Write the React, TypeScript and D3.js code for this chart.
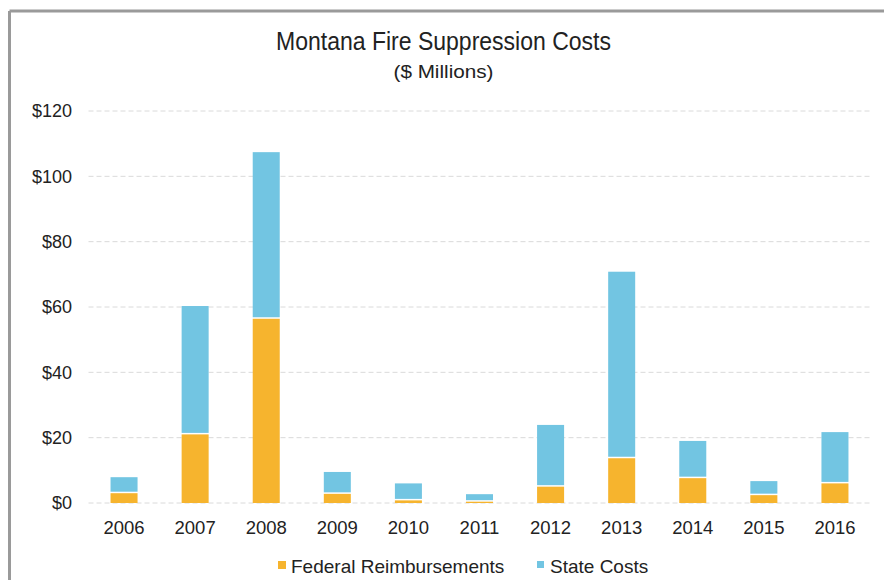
import React from "react";
import * as d3 from "d3";

const years = ["2006", "2007", "2008", "2009", "2010", "2011", "2012", "2013", "2014", "2015", "2016"];
const federal = [3.0, 21.0, 56.4, 2.8, 0.8, 0.4, 5.0, 13.7, 7.6, 2.4, 6.0];
const stateCosts = [4.9, 39.3, 51.0, 6.7, 5.2, 2.3, 18.9, 57.1, 11.4, 4.3, 15.7];
const yTicks = [0, 20, 40, 60, 80, 100, 120];
const seriesNames = ["Federal Reimbursements", "State Costs"];
const colors = ["#F6B42E", "#72C5E2"];

const W = 887;
const H = 580;
const left = 88.5;
const right = 870.5;
const top = 111;
const bottom = 503;

export default function App() {
  const x = d3.scaleBand<string>().domain(years).range([left, right]).paddingInner(0.62).paddingOuter(0.31);
  const y = d3.scaleLinear().domain([0, 120]).range([bottom, top]);
  const rows = years.map((yr, i) => ({ year: yr, federal: federal[i], state: stateCosts[i] }));
  const stacked = d3.stack<any>().keys(["federal", "state"])(rows);
  const font = "'Liberation Sans', Arial, sans-serif";

  return (
    <svg width={W} height={H} style={{ position: "absolute", left: 0, top: 0, background: "#fff" }} fontFamily={font}>
      {/* frame */}
      <line x1={9.5} y1={11} x2={884} y2={11} stroke="#9a9a9a" strokeWidth={3} />
      <line x1={9.5} y1={11} x2={9.5} y2={H} stroke="#9a9a9a" strokeWidth={3} />

      <text x={W / 2} y={50} textAnchor="middle" fontSize={25} textLength={335} lengthAdjust="spacingAndGlyphs" fill="#222">
        Montana Fire Suppression Costs
      </text>
      <text x={W / 2} y={78} textAnchor="middle" fontSize={19} textLength={100} lengthAdjust="spacingAndGlyphs" fill="#222">
        ($ Millions)
      </text>

      {yTicks.map((t) => (
        <g key={t}>
          <line x1={left} x2={right} y1={y(t)} y2={y(t)} stroke="#dadada" strokeWidth={1} strokeDasharray="5 3" />
          <text x={72} y={y(t)} dy="0.35em" textAnchor="end" fontSize={18} fill="#222">
            {"$" + t}
          </text>
        </g>
      ))}

      {stacked.map((layer, li) =>
        layer.map((d, i) => {
          const y0 = y(d[0]);
          const y1 = y(d[1]);
          const gap = li === 1 ? 1.5 : 0;
          return (
            <rect
              key={li + "-" + i}
              x={x(years[i])}
              width={x.bandwidth()}
              y={y1}
              height={Math.max(0, y0 - y1 - gap)}
              fill={colors[li]}
            />
          );
        })
      )}

      {years.map((yr) => (
        <text key={yr} x={(x(yr) as number) + x.bandwidth() / 2} y={534} textAnchor="middle" fontSize={18.5} fill="#222">
          {yr}
        </text>
      ))}

      <g>
        <rect x={278} y={561} width={8} height={8} fill={colors[0]} />
        <text x={291} y={573} fontSize={19} fill="#222">{seriesNames[0]}</text>
        <rect x={537} y={561} width={7} height={7} fill={colors[1]} />
        <text x={550} y={573} fontSize={19} fill="#222">{seriesNames[1]}</text>
      </g>
    </svg>
  );
}
